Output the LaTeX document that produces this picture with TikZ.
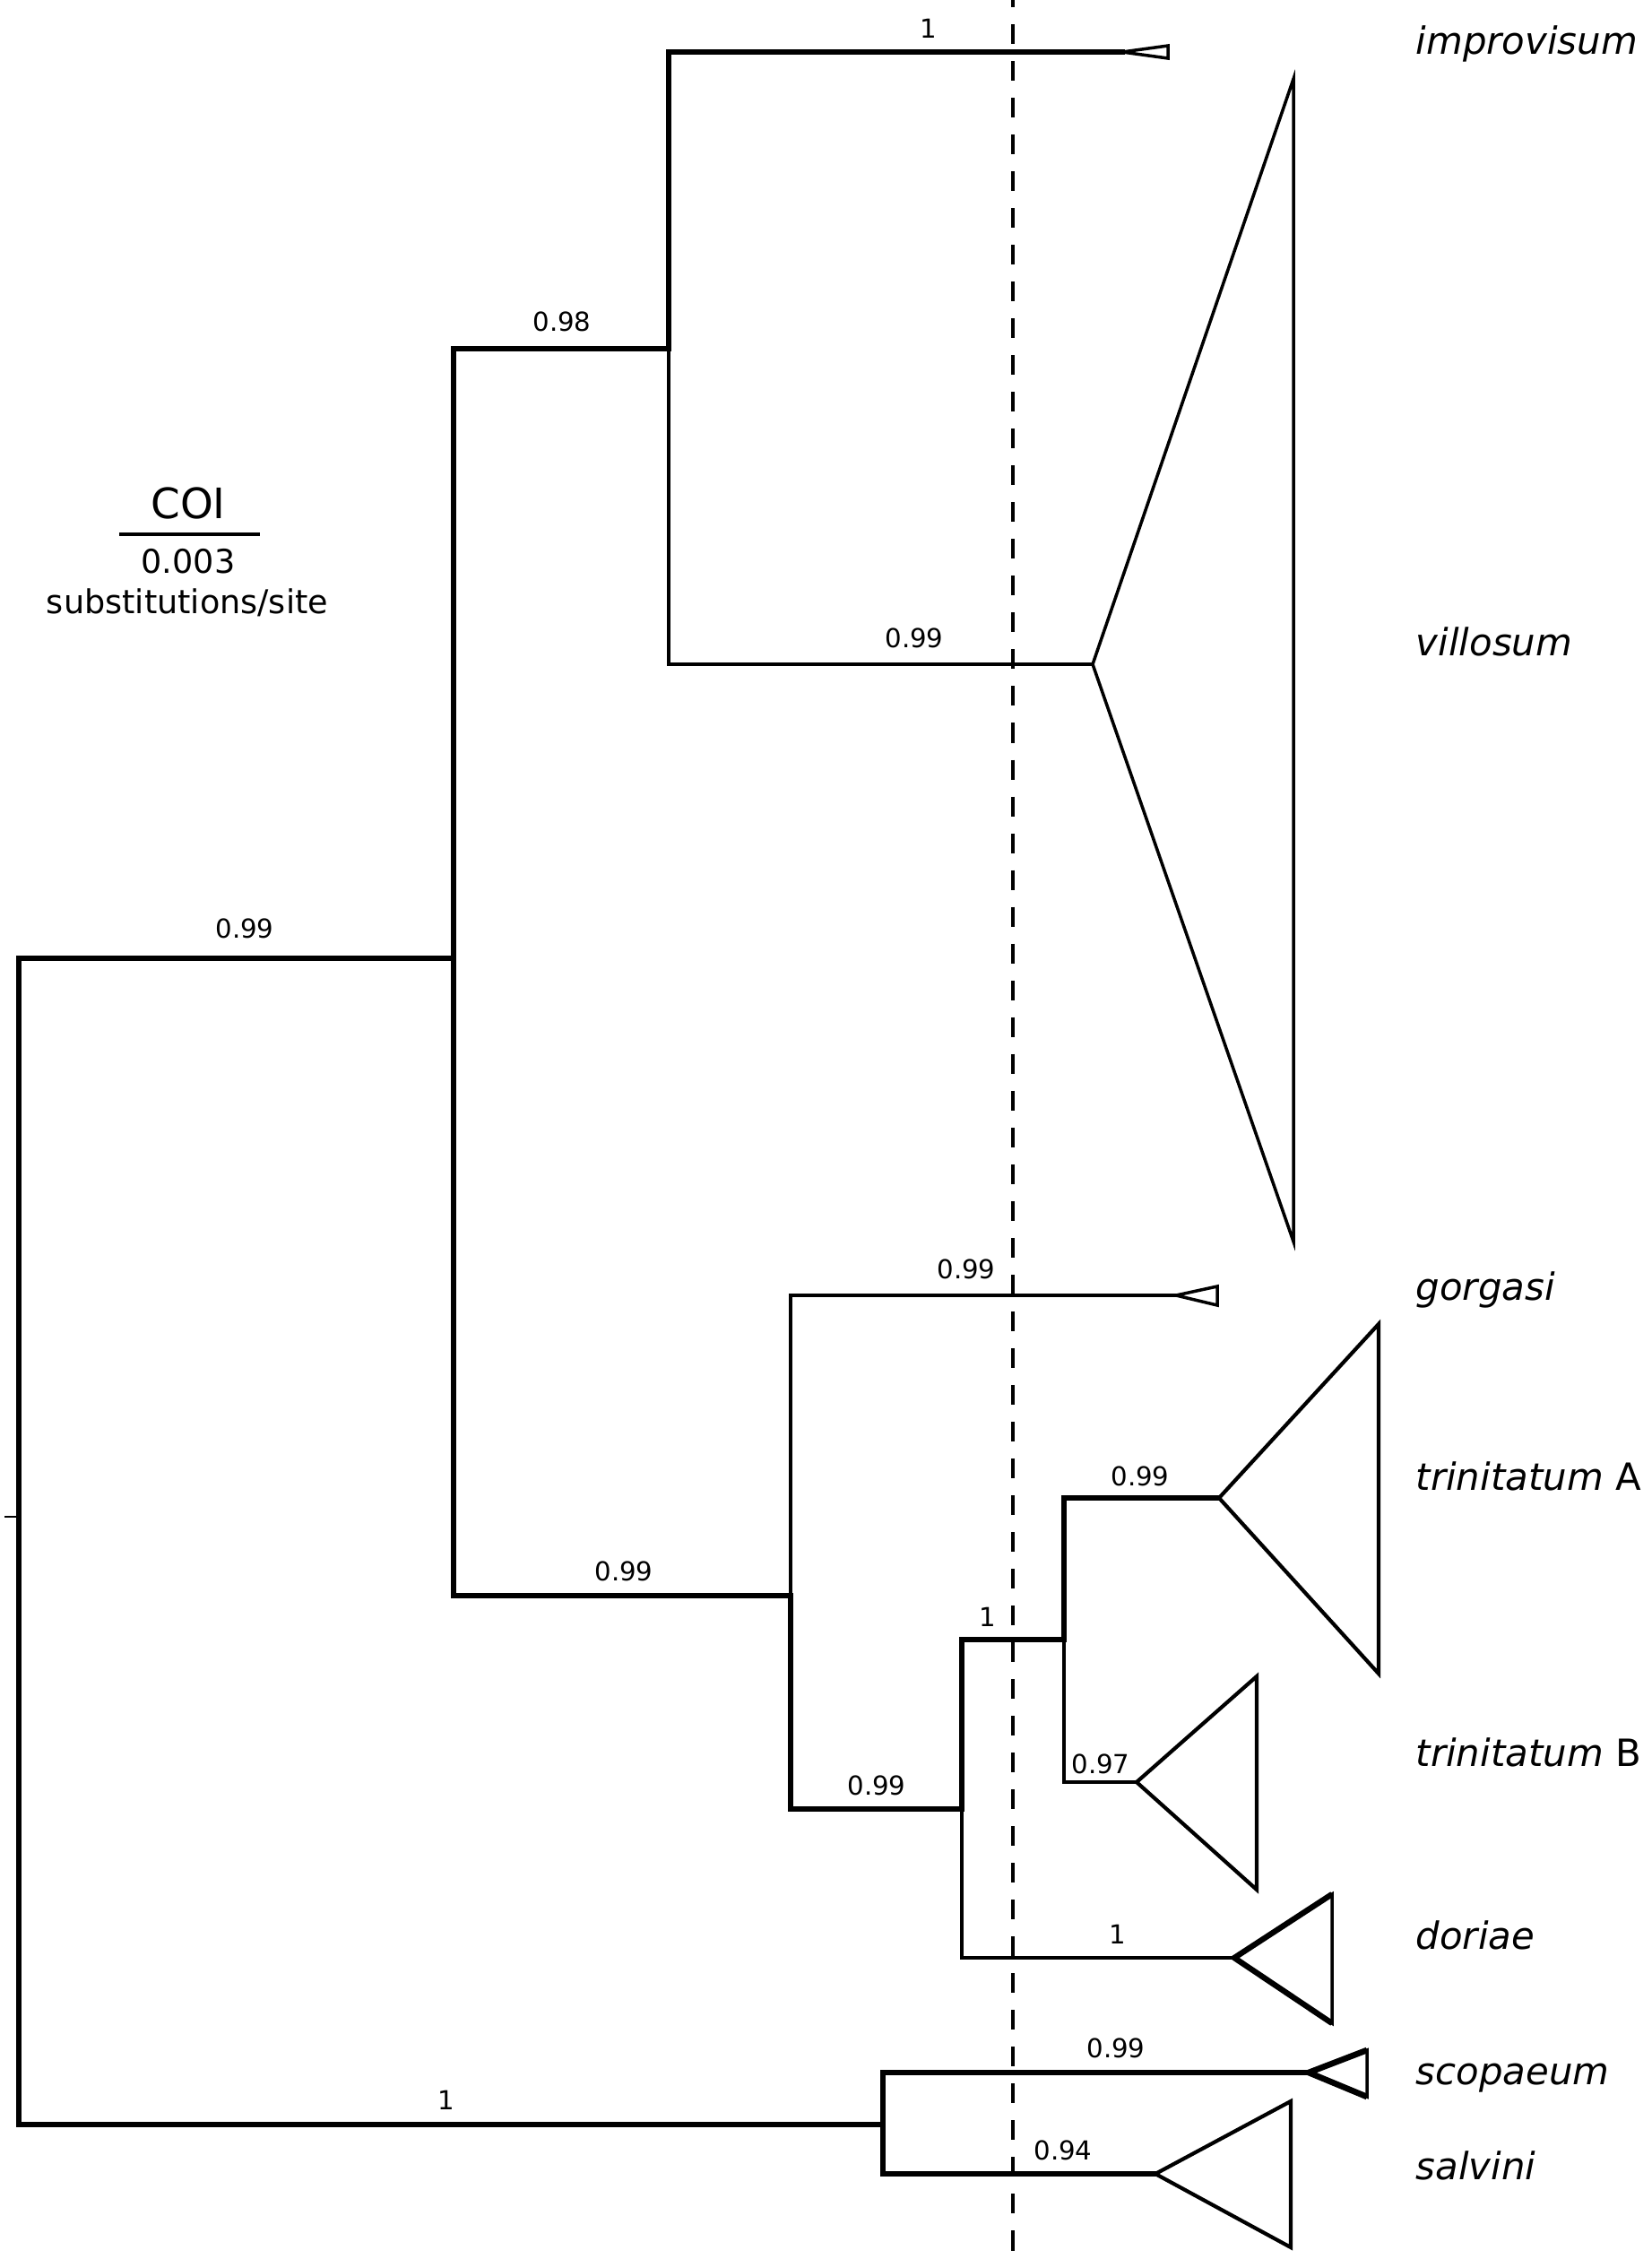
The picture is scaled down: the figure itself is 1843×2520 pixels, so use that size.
\documentclass[tikz,border=0pt]{standalone}
\usepackage{fontspec}
\setmainfont{DejaVu Sans}
\begin{document}
\begin{tikzpicture}[x=0.01cm,y=-0.01cm,
	br/.style={line width=1.45pt, line cap=rect},
	brt/.style={line width=1pt, line cap=rect},
	clade/.style={line width=1pt},
	pp/.style={font=\fontsize{8.3}{10}\selectfont, inner sep=0pt},
	taxon/.style={font=\fontsize{11.9}{14}\selectfont, anchor=west, inner sep=0pt}]
	\useasboundingbox (0,0) rectangle (1843,2520);
	%---------------- SCALE ----------------
	\node[font=\fontsize{13.3}{15}\selectfont] (coi) at (210,561) {COI};
	\coordinate (sbl) at (133,596);
	\coordinate (sbr) at (290,596);
	\draw[brt, line cap=butt] (sbl) -- (sbr);
	\node[font=\fontsize{10.4}{12}\selectfont] (sbv) at (210,626) {0.003};
	\node[font=\fontsize{10.4}{12}\selectfont] (sbu) at (209,672) {substitutions/site};
	%---------------- NODES ----------------
	\coordinate (stub) at (5,1692);
	\coordinate (root) at (21,1692);
	\coordinate (n1) at (506,1069);
	\coordinate (n2) at (985,2370);
	\coordinate (n3) at (746,389);
	\coordinate (n4) at (882,1780);
	\coordinate (n5) at (1073,2018);
	\coordinate (n6) at (1187,1829);
	\coordinate (t1) at (1252,58);
	\coordinate (t2) at (1219,741);
	\coordinate (t3) at (1312,1445);
	\coordinate (t4) at (1360,1671);
	\coordinate (t5) at (1268,1988);
	\coordinate (t6) at (1377,2184);
	\coordinate (t7) at (1460,2312);
	\coordinate (t8) at (1289,2425);
	%---------------- BRANCHES ----------------
	\draw[line width=0.7pt] (stub) -- (root);
	\draw[br] (root) |- (n1);
	\draw[br] (root) |- (n2);
	\draw[br] (n1) |- (n3);
	\draw[br] (n1) |- (n4);
	\draw[br] (n3) |- (t1);
	\draw[brt] (n3) |- (t2);
	\draw[brt] (n4) |- (t3);
	\draw[br] (n4) |- (n5);
	\draw[br] (n5) |- (n6);
	\draw[brt] (n5) |- (t6);
	\draw[br] (n6) |- (t4);
	\draw[brt] (n6) |- (t5);
	\draw[br] (n2) |- (t7);
	\draw[br] (n2) |- (t8);
	%---------------- CLADES ----------------
	\draw[clade] (t1) -- (1303,51) -- (1303,65) -- cycle;
	\draw[clade] (t2) -- (1443,88) -- (1443,1385) -- cycle;
	\draw[clade] (t3) -- (1358,1435) -- (1358,1456) -- cycle;
	\draw[clade, line width=1.2pt] (t4) -- (1538,1477) -- (1538,1867) -- cycle;
	\draw[clade, line width=1.2pt] (t5) -- (1402,1870) -- (1402,2108) -- cycle;
	\draw[clade] (t6) -- (1486,2113) -- (1486,2257) -- cycle;
	\draw[line width=1.8pt] (1486,2113) -- (t6) -- (1486,2257);
	\draw[clade] (t7) -- (1525,2287) -- (1525,2339) -- cycle;
	\draw[line width=1.9pt] (1525,2287) -- (t7) -- (1525,2339);
	\draw[clade, line width=1.2pt] (t8) -- (1440,2344) -- (1440,2507) -- cycle;
	%---------------- CUT-OFF ----------------
	\coordinate (cut1) at (1130,-14);
	\coordinate (cut2) at (1130,2520);
	\draw[line width=0.9pt, dash pattern=on 0.22cm off 0.19cm] (cut1) -- (cut2);
	%---------------- SUPPORT ----------------
	\node[pp] (p1) at (1036,32) {1};
	\node[pp] (p2) at (627,359) {0.98};
	\node[pp] (p3) at (1020,712) {0.99};
	\node[pp] (p4) at (273,1036) {0.99};
	\node[pp] (p5) at (1078,1416) {0.99};
	\node[pp] (p6) at (1272,1647) {0.99};
	\node[pp] (p7) at (696,1753) {0.99};
	\node[pp] (p8) at (1102,1804) {1};
	\node[pp] (p9) at (1228,1968) {0.97};
	\node[pp] (p10) at (978,1992) {0.99};
	\node[pp] (p11) at (1247,2158) {1};
	\node[pp] (p12) at (1245,2285) {0.99};
	\node[pp] (p13) at (498,2343) {1};
	\node[pp] (p14) at (1186,2399) {0.94};
	%---------------- TAXA ----------------
	\node[taxon] (improvisum) at (1579,49) {\textit{improvisum}};
	\node[taxon] (villosum) at (1579,716) {\textit{villosum}};
	\node[taxon] (gorgasi) at (1579,1439) {\textit{gorgasi}};
	\node[taxon] (trinA) at (1579,1647) {\textit{trinitatum} A};
	\node[taxon] (trinB) at (1579,1955) {\textit{trinitatum} B};
	\node[taxon] (doriae) at (1579,2159) {\textit{doriae}};
	\node[taxon] (scopaeum) at (1579,2318) {\textit{scopaeum}};
	\node[taxon] (salvini) at (1579,2416) {\textit{salvini}};
\end{tikzpicture}
\end{document}
